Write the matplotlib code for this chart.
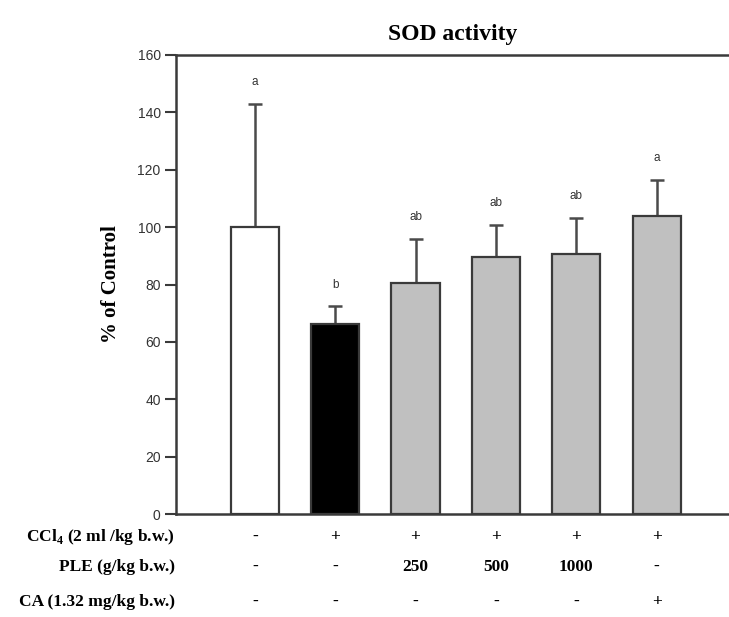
import matplotlib
matplotlib.use("Agg")
import matplotlib.pyplot as plt
import matplotlib.transforms as mtransforms

plt.rcParams["mathtext.fontset"] = "custom"
plt.rcParams["mathtext.rm"] = "Liberation Serif"
plt.rcParams["mathtext.bf"] = "Liberation Serif:bold"

# Group data (% of control) and upper SD
means = [100.0, 66.4, 80.6, 89.5, 90.7, 103.8]
sd_upper = [43.0, 6.0, 15.4, 11.3, 12.6, 12.7]
letters = ["a", "b", "ab", "ab", "ab", "a"]
bar_colors = ["white", "black", "#c0c0c0", "#c0c0c0", "#c0c0c0", "#c0c0c0"]

# Treatment table under the x axis
row_labels = [r"CCl$_{\mathbf{4}}$ (2 ml /kg b.w.)", "PLE (g/kg b.w.)", "CA (1.32 mg/kg b.w.)"]
ccl4_row = ["-", "+", "+", "+", "+", "+"]
ple_row = ["-", "-", "250", "500", "1000", "-"]
ca_row = ["-", "-", "-", "-", "-", "+"]

yticks = [0, 20, 40, 60, 80, 100, 120, 140, 160]

W, H = 729, 617
fig = plt.figure(figsize=(W / 100, H / 100), dpi=100)
ax = fig.add_axes([176 / W, 1 - 514 / H, (W - 176) / W, (514 - 55) / H])

serif = "Liberation Serif"
sans = "Liberation Sans"
line_c = "#3a3a3a"

x = list(range(len(means)))
ax.bar(x, means, width=0.6, color=bar_colors, edgecolor=line_c, linewidth=1.6, zorder=2)
ax.errorbar(x, means, yerr=[[0] * len(means), sd_upper], fmt="none",
            ecolor="#4a4a4a", elinewidth=1.8, capsize=5, capthick=1.8, zorder=1)

for xi, m, e, lab in zip(x, means, sd_upper, letters):
    ax.text(xi, m + e + 7.5, lab, ha="center", va="center", fontsize=8.5,
            family=sans, color="#333333")

ax.set_xlim(-0.98, 5.9)
ax.set_ylim(0, 160)
ax.set_yticks(yticks)
ax.set_yticklabels([str(t) for t in yticks], family=sans, fontsize=10, color="#333333")
ax.set_xticks([])
ax.tick_params(axis="y", direction="out", length=8, width=1.5, color=line_c, pad=3)

for side in ["left", "top", "bottom"]:
    ax.spines[side].set_color(line_c)
    ax.spines[side].set_linewidth(1.8)
ax.spines["right"].set_visible(False)

ax.set_title("SOD activity", family=serif, fontweight="bold", fontsize=17, pad=11)
ax.set_ylabel("% of Control", family=serif, fontweight="bold", fontsize=15, labelpad=12)

# Treatment table
trans = mtransforms.blended_transform_factory(ax.transData, fig.transFigure)
row_y = [537, 567, 602]
for ry, lab, vals in zip(row_y, row_labels, [ccl4_row, ple_row, ca_row]):
    yf = 1 - ry / H
    fig.text(175 / W, yf, lab, ha="right", va="center", family=serif,
             fontweight="bold", fontsize=12.5)
    for xi, v in zip(x, vals):
        ax.text(xi, yf, v, transform=trans, ha="center", va="center", family=serif,
                fontweight="bold", fontsize=12.5, clip_on=False)

fig.savefig("out.png", dpi=100)
